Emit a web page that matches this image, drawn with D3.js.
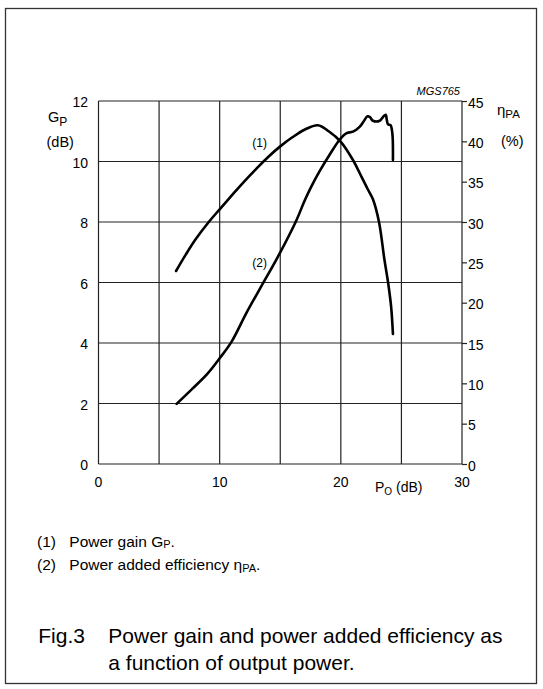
<!DOCTYPE html>
<html>
  <head>
    <meta http-equiv="Content-Type" content="text/html;charset=utf-8">
    <title>MGS765 power gain and efficiency</title>
    <script type="text/javascript" src="https://cdn.jsdelivr.net/npm/d3@7/dist/d3.min.js"></script>
    <style type="text/css">
body {
    margin: 0;
    background: #fff;
}
text {
    font-family: "Liberation Sans", Arial, sans-serif;
    fill: #000;
}
.grid {
    stroke: #222;
    stroke-width: 1.2;
}
.curve {
    fill: none;
    stroke: #000;
    stroke-width: 2.6;
    stroke-linejoin: round;
    stroke-linecap: round;
}
    </style>
  </head>
  <body>
    <script type="text/javascript">
// curve (1): power gain vs output power
var gainPo = [6.4, 7.2, 8.0, 9.1, 10.0, 11.0, 12.0, 13.0, 14.0, 15.0, 16.0, 17.0, 18.1, 19.0, 20.0, 21.0, 21.7, 22.2, 22.65, 23.15, 23.6, 23.9, 24.15, 24.3];
var gainDb = [6.38, 6.92, 7.42, 8.0, 8.42, 8.88, 9.33, 9.75, 10.15, 10.5, 10.8, 11.05, 11.2, 11.0, 10.65, 10.05, 9.5, 9.1, 8.75, 8.0, 6.75, 6.0, 5.2, 4.3];

// curve (2): power added efficiency vs output power
var effPo = [6.45, 7.8, 9.0, 10.0, 11.0, 12.2, 13.5, 14.7, 16.3, 17.0, 17.5, 18.25, 19.1, 19.9, 20.45, 21.0, 21.55, 21.85, 22.2, 22.4, 22.65, 23.2, 23.5, 23.7, 23.8, 23.9, 24.1, 24.25, 24.3];
var effPct = [7.45, 9.4, 11.2, 13.1, 15.2, 18.7, 22.2, 25.4, 30.1, 32.6, 34.2, 36.3, 38.4, 40.2, 41.0, 41.2, 41.8, 42.4, 43.1, 43.0, 42.55, 42.55, 43.05, 43.3, 42.6, 42.1, 42.0, 41.0, 37.7];

var xTicks = [0, 10, 20, 30];
var xGrid = [0, 5, 10, 15, 20, 25, 30];
var gainTicks = [0, 2, 4, 6, 8, 10, 12];
var effTicks = [0, 5, 10, 15, 20, 25, 30, 35, 40, 45];

var width = 543,
    height = 689;

var svg = d3.select("body")
  .append("svg")
  .attr("width", width)
  .attr("height", height);

// figure frame
svg.append("rect")
  .attr("x", 5.5)
  .attr("y", 8.5)
  .attr("width", 531)
  .attr("height", 675)
  .attr("fill", "none")
  .attr("stroke", "#333")
  .attr("stroke-width", 1.3);

var x = d3.scaleLinear().domain([0, 30]).range([98.5, 462]);
var yG = d3.scaleLinear().domain([0, 12]).range([464, 101]);
var yE = d3.scaleLinear().domain([0, 45]).range([464, 101]);

// grid
svg.selectAll("line.vgrid")
  .data(xGrid)
  .enter().append("line")
  .attr("class", "grid")
  .attr("x1", function(d) { return x(d); })
  .attr("x2", function(d) { return x(d); })
  .attr("y1", yG(0))
  .attr("y2", yG(12));

svg.selectAll("line.hgrid")
  .data(gainTicks)
  .enter().append("line")
  .attr("class", "grid")
  .attr("x1", x(0))
  .attr("x2", x(30))
  .attr("y1", function(d) { return yG(d); })
  .attr("y2", function(d) { return yG(d); });

// left axis labels
svg.selectAll("text.gl")
  .data(gainTicks)
  .enter().append("text")
  .attr("x", 88)
  .attr("y", function(d) { return yG(d) + 6; })
  .attr("text-anchor", "end")
  .attr("font-size", 14)
  .text(function(d) { return d; });

// right axis with outward ticks
var right = svg.append("g")
  .attr("transform", "translate(" + x(30) + ",0)")
  .call(d3.axisRight(yE).tickValues(effTicks).tickSize(5).tickPadding(1));
right.select(".domain").remove();
right.selectAll("line").attr("stroke", "#222").attr("stroke-width", 1.2);
right.selectAll("text")
  .attr("font-size", 14)
  .attr("font-family", "Liberation Sans, Arial, sans-serif")
  .attr("fill", "#000")
  .attr("dy", "0.45em");

// bottom labels
svg.selectAll("text.xl")
  .data(xTicks)
  .enter().append("text")
  .attr("x", function(d) { return x(d); })
  .attr("y", 487)
  .attr("text-anchor", "middle")
  .attr("font-size", 14)
  .text(function(d) { return d; });

// axis titles
var po = svg.append("text").attr("x", 375).attr("y", 492).attr("font-size", 14);
po.append("tspan").text("P");
po.append("tspan").attr("font-size", 10).attr("dy", 3).text("O");
po.append("tspan").attr("dy", -3).text(" (dB)");

var gp = svg.append("text").attr("x", 48).attr("y", 122).attr("font-size", 14.5);
gp.append("tspan").text("G");
gp.append("tspan").attr("font-size", 12).attr("dy", 3.5).text("P");
svg.append("text").attr("x", 46.5).attr("y", 147).attr("font-size", 14.5).text("(dB)");

var eta = svg.append("text").attr("x", 497).attr("y", 115).attr("font-size", 15);
eta.append("tspan").text("η");
eta.append("tspan").attr("font-size", 11.5).attr("dy", 3).text("PA");
svg.append("text").attr("x", 501).attr("y", 146).attr("font-size", 14.5).text("(%)");

svg.append("text")
  .attr("x", 460)
  .attr("y", 95)
  .attr("text-anchor", "end")
  .attr("font-size", 11)
  .attr("font-style", "italic")
  .text("MGS765");

// curves
var gainLine = d3.line()
  .x(function(d, i) { return x(gainPo[i]); })
  .y(function(d) { return yG(d); })
  .curve(d3.curveCatmullRom.alpha(0.5));

var effLine = d3.line()
  .x(function(d, i) { return x(effPo[i]); })
  .y(function(d) { return yE(d); })
  .curve(d3.curveCatmullRom.alpha(0.5));

svg.append("path").attr("class", "curve").attr("d", gainLine(gainDb));
svg.append("path").attr("class", "curve").attr("d", effLine(effPct));

svg.append("text")
  .attr("x", x(13.3))
  .attr("y", yG(10.6) + 4)
  .attr("text-anchor", "middle")
  .attr("font-size", 12)
  .text("(1)");
svg.append("text")
  .attr("x", x(13.3))
  .attr("y", yE(24.9) + 4)
  .attr("text-anchor", "middle")
  .attr("font-size", 12)
  .text("(2)");

// footnotes
var f1 = svg.append("text").attr("y", 546.7).attr("font-size", 15.5);
f1.append("tspan").attr("x", 37).text("(1)");
f1.append("tspan").attr("x", 69.3).text("Power gain G");
f1.append("tspan").attr("font-size", 11).attr("dy", 1.5).text("P");
f1.append("tspan").attr("dy", -1.5).text(".");

var f2 = svg.append("text").attr("y", 570).attr("font-size", 15.5);
f2.append("tspan").attr("x", 37).text("(2)");
f2.append("tspan").attr("x", 69.3).text("Power added efficiency η");
f2.append("tspan").attr("font-size", 11).attr("dy", 1.5).text("PA");
f2.append("tspan").attr("dy", -1.5).text(".");

// caption
var cap = svg.append("text").attr("font-size", 21);
cap.append("tspan").attr("x", 38.3).attr("y", 643.3).text("Fig.3");
cap.append("tspan").attr("x", 108.3).attr("y", 643.3).text("Power gain and power added efficiency as");
cap.append("tspan").attr("x", 108.3).attr("y", 670).text("a function of output power.");
    </script>
  </body>
</html>
